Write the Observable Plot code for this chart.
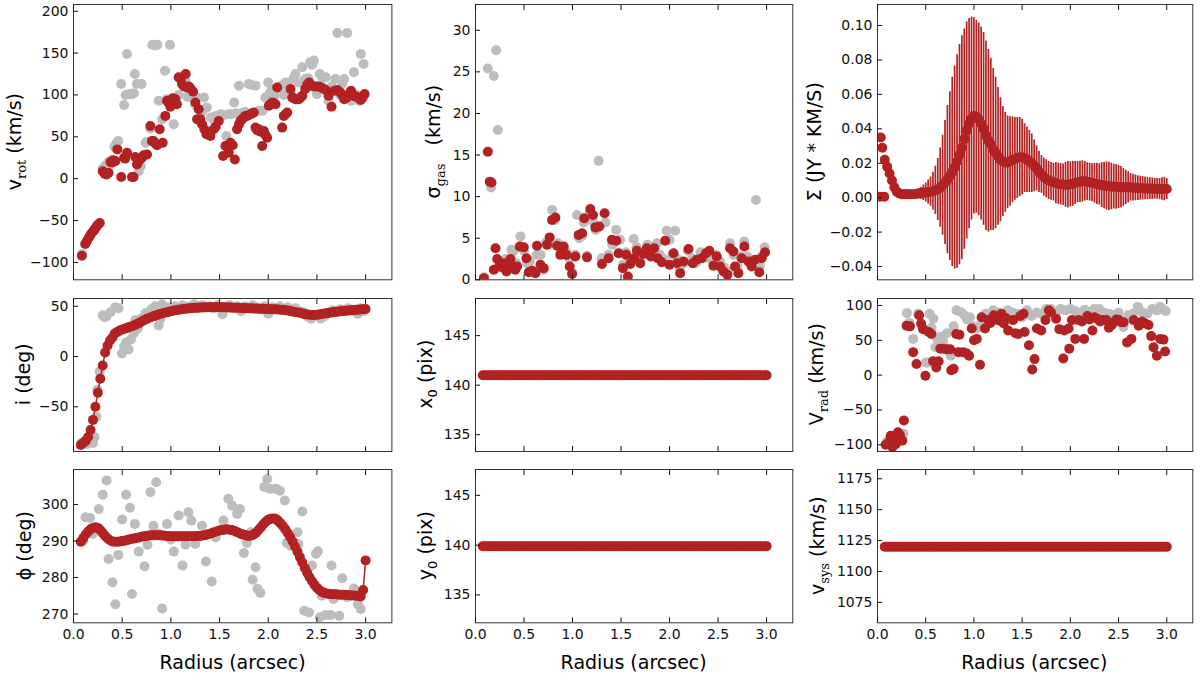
<!DOCTYPE html>
<html><head><meta charset="utf-8">
<script src="https://cdn.jsdelivr.net/npm/d3@7"></script>
<script src="https://cdn.jsdelivr.net/npm/@observablehq/plot@0.6"></script>
<style>
html,body{margin:0;padding:0;background:#fff;}
#chart{position:relative;width:1200px;height:679px;overflow:hidden;font-family:"DejaVu Sans";}
#chart svg.panel{position:absolute;max-width:none;}
#labels{position:absolute;left:0;top:0;pointer-events:none;}
</style></head><body><div id="chart"></div>
<script>
// ---------------- data ----------------
const radius = [
 0.075,0.1,0.125,0.15,0.175,0.2,0.225,0.25,0.275,0.3,
 0.325,0.35,0.375,0.4,0.425,0.45,0.475,0.5,0.525,0.55,
 0.575,0.6,0.625,0.65,0.675,0.7,0.725,0.75,0.775,0.8,
 0.825,0.85,0.875,0.9,0.925,0.95,0.975,1.0,1.025,1.05,
 1.075,1.1,1.125,1.15,1.175,1.2,1.225,1.25,1.275,1.3,
 1.325,1.35,1.375,1.4,1.425,1.45,1.475,1.5,1.525,1.55,
 1.575,1.6,1.625,1.65,1.675,1.7,1.725,1.75,1.775,1.8,
 1.825,1.85,1.875,1.9,1.925,1.95,1.975,2.0,2.025,2.05,
 2.075,2.1,2.125,2.15,2.175,2.2,2.225,2.25,2.275,2.3,
 2.325,2.35,2.375,2.4,2.425,2.45,2.475,2.5,2.525,2.55,
 2.575,2.6,2.625,2.65,2.675,2.7,2.725,2.75,2.775,2.8,
 2.825,2.85,2.875,2.9,2.925,2.95,2.975,3.0];

const inclinationFit = [
 -88,-86,-84,-80,-73,-63,-50,-36,-22,-9,
 4,11,16,19,23,24.5,25.8,26.8,27.7,28.5,
 29.3,30.1,31,32.2,33.5,34.8,36,37.2,38.3,39.3,
 40.2,41,41.8,42.5,43.2,43.8,44.4,45,45.5,46,
 46.4,46.8,47.2,47.5,47.8,48,48.2,48.4,48.6,48.7,
 48.8,48.9,49,49,49,49,49,49,48.9,48.9,
 48.8,48.8,48.7,48.6,48.5,48.4,48.3,48.2,48.1,48,
 47.9,47.8,47.7,47.6,47.5,47.4,47.3,47.2,47.1,47,
 46.9,46.8,46.6,46.4,46.1,45.8,45.3,44.7,44.2,43.8,
 43.5,42.8,42.2,41.8,41.5,41.3,41.3,41.5,41.9,42.3,
 42.7,43.1,43.5,43.9,44.2,44.5,44.8,45.1,45.4,45.6,
 45.8,46,46.2,46.4,46.6,46.8,47,47.2];

const phiFit = [
 289.8,290.8,291.8,292.6,293.2,293.6,293.8,293.6,293.0,292.2,
 291.4,290.7,290.2,289.9,289.8,289.8,289.9,290.0,290.1,290.3,
 290.4,290.6,290.7,290.9,291.0,291.2,291.3,291.4,291.5,291.6,
 291.6,291.6,291.6,291.5,291.5,291.4,291.4,291.3,291.3,291.3,
 291.3,291.3,291.3,291.3,291.3,291.3,291.3,291.3,291.4,291.4,
 291.5,291.6,291.8,292.0,292.2,292.5,292.7,292.9,293.0,293.1,
 293.2,293.1,293.0,292.8,292.5,292.2,291.9,291.7,291.5,291.4,
 291.5,291.8,292.3,293.0,293.8,294.6,295.3,295.8,296.1,296.2,
 296.1,295.6,294.9,294.1,293.2,292.2,291.1,289.9,288.5,287.1,
 285.6,284.1,282.6,281.3,280.1,279.0,278.0,277.2,276.6,276.1,
 275.8,275.6,275.5,275.4,275.4,275.4,275.3,275.3,275.3,275.2,
 275.2,275.1,275.1,275.0,275.0,274.8,276.6,284.7];

const surfaceFit = [
 0.022,0.018,0.014,0.010,0.006,0.0035,0.0025,0.002,0.002,0.002,
 0.002,0.002,0.002,0.0022,0.0024,0.0026,0.0028,0.003,0.0032,0.0035,
 0.0038,0.0042,0.0048,0.0058,0.0072,0.0088,0.0105,0.0125,0.015,0.0175,
 0.021,0.025,0.029,0.034,0.039,0.043,0.046,0.0475,0.047,0.0455,
 0.043,0.040,0.036,0.033,0.031,0.028,0.026,0.024,0.022,0.021,
 0.0205,0.0205,0.021,0.022,0.0225,0.023,0.0235,0.0235,0.023,0.022,
 0.021,0.020,0.0185,0.017,0.015,0.0135,0.012,0.011,0.010,0.0095,
 0.009,0.0085,0.008,0.0078,0.0075,0.0075,0.0075,0.0078,0.008,0.0085,
 0.009,0.0092,0.0095,0.0095,0.0093,0.009,0.0087,0.0083,0.008,0.0077,
 0.0073,0.007,0.0068,0.0066,0.0065,0.0064,0.0063,0.0062,0.0061,0.006,
 0.006,0.006,0.006,0.0058,0.0057,0.0056,0.0055,0.0055,0.0054,0.0053,
 0.0053,0.0052,0.0052,0.0051,0.005,0.005,0.005,0.005];

const surfaceErr = [
 0.0005,0.0008,0.001,0.001,0.001,0.001,0.001,0.001,0.0012,0.0014,
 0.0016,0.0018,0.002,0.0025,0.003,0.0035,0.0045,0.0055,0.007,0.0085,
 0.011,0.014,0.018,0.023,0.029,0.036,0.043,0.049,0.055,0.059,
 0.062,0.064,0.065,0.064,0.063,0.061,0.059,0.057,0.056,0.056,
 0.056,0.056,0.055,0.053,0.05,0.047,0.044,0.04,0.036,0.032,
 0.029,0.027,0.026,0.025,0.024,0.0235,0.023,0.022,0.02,0.019,
 0.018,0.017,0.015,0.013,0.012,0.011,0.011,0.011,0.011,0.011,
 0.011,0.012,0.012,0.012,0.012,0.013,0.0135,0.013,0.013,0.0125,
 0.012,0.012,0.012,0.0115,0.011,0.011,0.011,0.0115,0.012,0.012,
 0.013,0.0135,0.014,0.014,0.0135,0.013,0.013,0.0125,0.012,0.011,
 0.010,0.009,0.008,0.0078,0.0075,0.0072,0.007,0.0068,0.0066,0.0065,
 0.0063,0.0062,0.006,0.006,0.0062,0.0065,0.0068,0.006];

const surfaceInner = [[0.034,0.035],[0.05,0.029],[0.024,0.0006],[0.07,0.0006]];

const x0Value = 141;
const y0Value = 139.9;
const vsysValue = 1120;

const vrotFit = [
 [0.086,-92],[0.12,-78],[0.14,-74],[0.16,-70],[0.18,-66],[0.2,-63],[0.22,-60],[0.235,-57],[0.25,-55],[0.27,-53],
 [0.30,9],[0.32,6],[0.34,5],[0.36,7],[0.38,20],[0.395,19],[0.41,22],[0.43,21],[0.45,35],[0.49,2],
 [0.52,25],[0.53,24],[0.55,31],[0.60,2],[0.617,2],[0.634,26],[0.652,17],[0.669,21],[0.685,24],[0.703,25],
 [0.72,28],[0.755,29],[0.789,63],[0.805,45],[0.823,45],[0.84,42],[0.858,40],[0.885,59],[0.916,43],[0.943,75],
 [0.96,93],[0.98,90],[0.995,86],[1.019,96],[1.035,95],[1.046,95],[1.063,89],[1.08,121],[1.10,120],[1.115,113],
 [1.135,110],[1.152,125],[1.166,109],[1.185,110],[1.2,108],[1.228,104],[1.252,91],[1.269,71],[1.286,83],[1.303,71],
 [1.32,65],[1.344,59],[1.365,53],[1.385,55],[1.406,51],[1.44,59],[1.46,62],[1.492,69],[1.536,27],[1.56,39],
 [1.595,31],[1.612,43],[1.635,40],[1.657,23],[1.68,59],[1.70,65],[1.715,69],[1.732,71],[1.749,73],[1.766,75],
 [1.783,75],[1.80,76],[1.818,77],[1.835,78],[1.852,79],[1.869,61],[1.886,58],[1.903,59],[1.92,56],[1.938,39],
 [1.955,57],[1.972,52],[1.989,49],[2.006,87],[2.023,89],[2.04,91],[2.06,90],[2.075,89],[2.092,109],[2.143,61],
 [2.16,75],[2.178,77],[2.195,79],[2.229,107],[2.246,97],[2.263,96],[2.28,95],[2.30,95],[2.315,95],[2.333,97],
 [2.35,99],[2.38,107],[2.40,112],[2.42,115],[2.44,111],[2.47,110],[2.49,110],[2.52,110],[2.54,109],[2.56,108],
 [2.59,106],[2.62,99],[2.65,86],[2.68,105],[2.71,106],[2.74,103],[2.76,100],[2.78,95],[2.81,97],[2.83,101],
 [2.85,105],[2.88,99],[2.90,98],[2.92,97],[2.95,94],[2.97,97],[2.99,101]];

const vrotObs = [
 [0.09,-90],[0.13,-76],[0.17,-68],[0.21,-62],[0.25,-56],
 [0.30,12],[0.33,16],[0.36,20],[0.39,22],[0.42,38],[0.44,42],[0.46,45],[0.49,113],[0.52,88],[0.535,100],
 [0.55,149],[0.57,101],[0.60,101],[0.62,102],[0.63,125],[0.65,113],[0.67,9],[0.69,15],[0.70,113],[0.74,43],
 [0.755,44],[0.79,60],[0.81,160],[0.84,159],[0.86,160],[0.875,93],[0.91,71],[0.94,129],[0.96,95],[0.99,160],
 [1.03,65],[1.05,90],[1.08,100],[1.11,117],[1.15,117],[1.17,98],[1.2,97],[1.22,100],[1.25,88],[1.27,97],
 [1.3,69],[1.32,80],[1.34,97],[1.37,85],[1.41,73],[1.44,70],[1.46,75],[1.49,72],[1.51,77],[1.55,76],
 [1.57,51],[1.6,77],[1.62,77],[1.65,91],[1.67,78],[1.70,111],[1.73,78],[1.76,80],[1.80,113],[1.83,112],
 [1.87,111],[1.9,81],[1.94,81],[1.97,97],[2.0,115],[2.02,103],[2.04,107],[2.07,100],[2.1,108],[2.13,111],
 [2.16,100],[2.18,115],[2.2,112],[2.23,103],[2.26,120],[2.28,125],[2.31,115],[2.35,133],[2.38,119],[2.41,120],
 [2.43,139],[2.45,136],[2.47,141],[2.5,101],[2.53,125],[2.56,120],[2.59,121],[2.62,93],[2.65,110],[2.69,119],
 [2.71,174],[2.74,100],[2.76,113],[2.78,119],[2.81,174],[2.83,95],[2.85,93],[2.88,127],[2.91,100],[2.93,93],
 [2.95,149],[2.98,137]];

const sigmaFit = [
 [0.086,0.2],[0.127,15.4],[0.147,11.8],[0.165,11.7],[0.189,1.2],[0.206,3.8],[0.223,2.5],[0.25,1.8],[0.27,1.5],[0.291,2.0],
 [0.319,1.0],[0.34,1.8],[0.36,2.5],[0.394,1.6],[0.41,1.2],[0.429,1.6],[0.456,4.0],[0.497,3.9],[0.525,2.6],[0.549,0.9],
 [0.583,1.1],[0.617,0.8],[0.634,4.1],[0.669,1.8],[0.703,1.4],[0.737,4.2],[0.765,5.1],[0.789,7.2],[0.823,7.5],[0.84,4.1],
 [0.874,3.0],[0.909,4.0],[0.936,3.0],[0.971,1.6],[0.995,0.7],[1.029,2.8],[1.063,5.4],[1.098,5.6],[1.121,7.4],[1.149,2.7],
 [1.183,8.5],[1.211,7.8],[1.235,6.3],[1.276,6.4],[1.303,1.9],[1.331,8.0],[1.372,2.6],[1.406,4.8],[1.451,4.7],[1.475,3.2],
 [1.519,1.4],[1.553,3.0],[1.57,0.4],[1.595,1.9],[1.636,2.6],[1.663,3.5],[1.698,2.0],[1.732,3.1],[1.766,3.8],[1.807,2.8],
 [1.842,3.8],[1.876,2.6],[1.92,2.1],[1.955,4.7],[2.0,1.8],[2.041,3.2],[2.075,2.0],[2.109,0.8],[2.144,2.2],[2.195,3.7],
 [2.239,2.0],[2.28,2.4],[2.332,2.6],[2.376,3.2],[2.41,3.5],[2.452,1.7],[2.486,2.8],[2.521,1.6],[2.555,1.0],[2.596,0.6],
 [2.623,3.8],[2.658,3.4],[2.675,1.6],[2.709,0.8],[2.743,2.6],[2.771,4.0],[2.812,2.2],[2.846,1.6],[2.881,2.4],[2.925,0.9],
 [2.949,2.6],[2.984,3.3]];

const sigmaObs = [
 [0.09,0.3],[0.127,25.4],[0.16,11.1],[0.189,24.5],[0.213,27.6],[0.23,18.0],[0.25,2.2],[0.28,1.5],[0.31,2.5],[0.34,2.0],
 [0.37,3.6],[0.39,3.4],[0.42,2.0],[0.463,5.2],[0.5,3.5],[0.53,2.0],[0.56,2.2],[0.6,1.0],[0.63,3.0],[0.67,3.0],
 [0.7,1.2],[0.73,4.5],[0.76,4.3],[0.79,8.4],[0.82,7.2],[0.85,4.4],[0.88,3.5],[0.9,4.0],[0.94,3.3],[0.97,2.5],
 [1.0,0.8],[1.03,3.0],[1.046,7.8],[1.07,5.0],[1.1,5.3],[1.115,6.9],[1.15,2.9],[1.18,8.2],[1.21,7.0],[1.24,6.0],
 [1.269,14.3],[1.3,2.6],[1.34,6.9],[1.37,3.0],[1.41,4.2],[1.45,6.0],[1.49,4.8],[1.52,1.8],[1.55,3.3],[1.59,2.6],
 [1.63,4.9],[1.66,3.9],[1.7,2.8],[1.73,3.4],[1.77,4.2],[1.8,3.0],[1.84,3.5],[1.87,4.4],[1.9,3.0],[1.94,2.5],
 [1.97,5.9],[2.0,4.8],[2.03,3.0],[2.058,5.9],[2.08,2.5],[2.11,1.5],[2.15,2.0],[2.19,3.5],[2.23,2.6],[2.27,2.0],
 [2.32,3.3],[2.36,2.9],[2.4,2.6],[2.44,2.4],[2.48,3.0],[2.52,2.2],[2.56,1.5],[2.6,1.0],[2.623,4.4],[2.66,3.0],
 [2.7,1.6],[2.74,2.8],[2.77,4.6],[2.8,2.8],[2.85,2.0],[2.89,9.6],[2.93,1.7],[2.95,2.9],[2.98,3.9]];

const inclinationObs = [
 [0.08,-86],[0.11,-84],[0.14,-87],[0.17,-83],[0.2,-86],[0.216,-80],[0.235,-60],[0.245,-33],[0.27,-15],[0.3,41],
 [0.32,39],[0.34,40],[0.38,44],[0.429,49],[0.463,48],[0.497,3],[0.52,10],[0.54,14],[0.566,7],[0.59,17],
 [0.617,23],[0.634,36],[0.66,28],[0.7,38],[0.74,43],[0.77,40],[0.8,47],[0.84,50],[0.874,31],[0.89,37],
 [0.91,52],[0.94,45],[0.97,49],[1.0,47],[1.04,50],[1.08,48],[1.12,51],[1.16,49],[1.2,50],[1.24,52],
 [1.28,48],[1.32,51],[1.36,49],[1.4,50],[1.44,48],[1.48,51],[1.53,42],[1.56,49],[1.6,51],[1.64,48],
 [1.68,50],[1.72,45],[1.76,50],[1.8,48],[1.84,51],[1.88,49],[1.92,47],[1.96,50],[2.0,42.6],[2.04,49],
 [2.08,48],[2.12,50],[2.16,46],[2.2,49],[2.24,47],[2.28,48],[2.32,45],[2.36,44],[2.4,40],[2.44,37.5],
 [2.48,41],[2.54,37.5],[2.58,40],[2.62,43],[2.66,46],[2.7,44],[2.74,47],[2.78,45],[2.82,48],[2.86,46],
 [2.9,44],[2.92,42.5],[2.95,48],[2.98,45]];

const vradFit = [
 [0.085,-100],[0.12,-96],[0.137,-87],[0.154,-103],[0.171,-92],[0.188,-99],[0.212,-82],[0.233,-86],[0.257,-94],[0.274,-65],
 [0.301,71],[0.336,70],[0.37,33],[0.404,16],[0.432,86],[0.452,74],[0.473,66],[0.497,-1],[0.531,62],[0.559,59],
 [0.576,20],[0.61,11],[0.634,20],[0.651,38],[0.686,38],[0.72,37],[0.754,37],[0.765,7],[0.789,9],[0.816,59],
 [0.84,33],[0.85,58],[0.891,33],[0.926,31],[0.95,28],[0.977,67],[1.001,50],[1.029,52],[1.063,15],[1.08,83],
 [1.115,67],[1.149,79],[1.17,75],[1.183,81],[1.207,86],[1.23,80],[1.252,83],[1.27,78],[1.286,88],[1.31,74],
 [1.33,82],[1.355,64],[1.406,79],[1.43,60],[1.458,59],[1.48,85],[1.515,88],[1.526,62],[1.571,43],[1.605,8],
 [1.629,23],[1.653,67],[1.698,64],[1.742,79],[1.777,93],[1.8,90],[1.852,81],[1.886,66],[1.927,24],[1.938,64],
 [1.982,67],[1.989,38],[2.016,79],[2.051,52],[2.085,79],[2.12,77],[2.143,52],[2.177,85],[2.2,80],[2.229,64],
 [2.25,83],[2.28,81],[2.31,77],[2.332,79],[2.373,79],[2.4,68],[2.43,72],[2.451,76],[2.48,80],[2.503,79],
 [2.53,76],[2.554,76],[2.589,47],[2.633,52],[2.657,79],[2.709,71],[2.743,77],[2.777,74],[2.811,72],[2.839,56],
 [2.863,40],[2.898,28],[2.932,52],[2.966,51],[2.983,34]];

const vradObs = [
 [0.1,-95],[0.15,-90],[0.2,-97],[0.24,-88],[0.27,-84],
 [0.305,89],[0.33,75],[0.37,52],[0.42,88],[0.46,70],[0.5,18],[0.52,18],[0.54,88],[0.56,68],[0.58,81],
 [0.6,40],[0.62,52],[0.65,55],[0.68,49],[0.72,60],[0.76,28],[0.79,70],[0.82,93],[0.87,90],[0.9,86],
 [0.93,80],[0.96,83],[0.99,70],[1.03,67],[1.07,72],[1.12,88],[1.16,85],[1.2,93],[1.25,90],[1.3,86],
 [1.35,93],[1.4,90],[1.45,88],[1.5,83],[1.55,93],[1.6,85],[1.65,90],[1.7,88],[1.75,95],[1.8,95],
 [1.85,90],[1.9,95],[1.95,93],[2.0,95],[2.05,92],[2.1,90],[2.15,94],[2.2,90],[2.25,95],[2.3,95],
 [2.35,90],[2.4,88],[2.45,86],[2.5,90],[2.55,69],[2.6,86],[2.65,88],[2.7,98],[2.75,90],[2.8,88],
 [2.85,95],[2.9,93],[2.93,98],[2.96,95],[2.99,92]];

const phiObs = [
 [0.1,290],[0.122,296.5],[0.17,296.3],[0.2,292],[0.26,298.8],[0.3,302.7],[0.34,306.6],[0.36,285.1],[0.4,278.7],[0.43,272.7],
 [0.46,286.2],[0.5,295.9],[0.54,302.7],[0.58,299.1],[0.6,275.5],[0.63,294.7],[0.67,287.1],[0.73,283.1],[0.76,289],[0.79,303.4],
 [0.82,294.2],[0.85,306.1],[0.87,292],[0.91,271.5],[0.96,294.7],[1.0,290.4],[1.03,287.1],[1.08,297],[1.12,283.3],[1.15,289],
 [1.18,297.9],[1.21,295.6],[1.25,289.2],[1.32,294.2],[1.36,284.4],[1.42,278.9],[1.46,291],[1.51,292.9],[1.54,295.6],[1.59,301.6],
 [1.63,299.7],[1.68,297.4],[1.71,298.8],[1.75,286.7],[1.78,289.5],[1.82,292.4],[1.84,279.4],[1.87,282.8],[1.89,276.9],[1.92,275.8],
 [1.96,304.8],[1.99,307],[2.02,304.3],[2.08,304.3],[2.12,303.8],[2.17,301.1],[2.19,289.5],[2.23,288.7],[2.3,292.4],[2.31,289.2],
 [2.35,298.1],[2.37,270.9],[2.42,270.4],[2.45,283.3],[2.49,286.5],[2.51,287.2],[2.53,269.1],[2.55,275],[2.59,269.7],[2.64,269.7],
 [2.65,283.3],[2.67,274.1],[2.73,269.5],[2.76,279.8],[2.81,274.6],[2.88,277],[2.92,272.7],[2.95,271.4]];

const xTicks = [0, 0.5, 1, 1.5, 2, 2.5, 3];
const xDomain = [0, 3.27];

// ---------------- layout ----------------
const RED = "#b22222", GRAY = "#bdbdbd", INK = "#111", FRAME = "#333";
const cols = [{left:73.3,width:318.4},{left:475,width:317.3},{left:876.7,width:315.3}];
const rows = [{top:4,height:275.3},{top:297.7,height:153},{top:469,height:153.3}];
const M = {left:60, right:8, top:8, bottom:32};
const chart = document.getElementById("chart");

const grid = (vals) => radius.map((r, i) => ({r, v: vals[i]}));
const pairs = (arr) => arr.map(([r, v]) => ({r, v}));
const constant = (value) => radius.map(r => ({r, v: value}));

function obsDots(data){ return Plot.dot(pairs(data), {x:"r", y:"v", r:5, fill:GRAY, clip:true}); }
function fitDots(data){ return Plot.dot(data, {x:"r", y:"v", r:5, fill:RED, clip:true}); }

function panel(col, row, yDomain, yTicks, yFormat, marks){
  const c = cols[col], rw = rows[row];
  const svg = Plot.plot({
    width: M.left + c.width + M.right,
    height: M.top + rw.height + M.bottom,
    marginLeft: M.left, marginRight: M.right, marginTop: M.top, marginBottom: M.bottom,
    style: {background:"transparent", fontFamily:"DejaVu Sans", fontSize:"14px", color: INK},
    x: {domain: xDomain},
    y: {domain: yDomain},
    marks: [
      ...marks,
      Plot.frame({stroke: FRAME, strokeWidth: 1}),
      Plot.axisX(xTicks, {anchor:"bottom", tickSize:-5, tickPadding:11, tickFormat: row === 2 ? d3.format(".1f") : () => "", label:null}),
      Plot.axisX(xTicks, {anchor:"top", tickSize:-5, tickFormat: () => "", label:null}),
      Plot.axisY(yTicks, {anchor:"left", tickSize:-5, tickPadding:10, tickFormat: yFormat, label:null})
    ]
  });
  svg.classList.add("panel");
  svg.style.left = (c.left - M.left) + "px";
  svg.style.top = (rw.top - M.top) + "px";
  chart.appendChild(svg);
}

const fInt = d3.format("d");

// row 1
panel(0, 0, [-120.7, 208], [-100,-50,0,50,100,150,200], fInt, [
  obsDots(vrotObs), fitDots(pairs(vrotFit))
]);
panel(1, 0, [0, 33.1], [0,5,10,15,20,25,30], fInt, [
  obsDots(sigmaObs), fitDots(pairs(sigmaFit))
]);
const surf = radius.map((r, i) => ({r, v: surfaceFit[i], e: surfaceErr[i]}));
panel(2, 0, [-0.0477, 0.1122], [-0.04,-0.02,0,0.02,0.04,0.06,0.08,0.10], d3.format(".2f"), [
  Plot.ruleX(surf, {x:"r", y1: d => d.v - d.e, y2: d => d.v + d.e, stroke: RED, strokeWidth: 1.7, clip:true}),
  fitDots(pairs(surfaceInner)),
  fitDots(surf)
]);
// row 2
panel(0, 1, [-94.4, 57.7], [-50,0,50], fInt, [
  obsDots(inclinationObs),
  Plot.line(grid(inclinationFit), {x:"r", y:"v", stroke:RED, strokeWidth:1.5, clip:true}),
  fitDots(grid(inclinationFit))
]);
panel(1, 1, [133.3, 148.75], [135,140,145], fInt, [
  fitDots(constant(x0Value))
]);
panel(2, 1, [-109.6, 110], [-100,-50,0,50,100], fInt, [
  obsDots(vradObs), fitDots(pairs(vradFit))
]);
// row 3
panel(0, 2, [267.6, 309.6], [270,280,290,300], fInt, [
  obsDots(phiObs),
  Plot.line(grid(phiFit), {x:"r", y:"v", stroke:RED, strokeWidth:1.5, clip:true}),
  fitDots(grid(phiFit))
]);
panel(1, 2, [132.2, 147.6], [135,140,145], fInt, [
  fitDots(constant(y0Value))
]);
panel(2, 2, [1058.5, 1182.5], [1075,1100,1125,1150,1175], fInt, [
  fitDots(constant(vsysValue))
]);

// ---------------- axis titles ----------------
const overlay = d3.select(chart).append("svg").attr("id","labels").attr("width",1200).attr("height",679);
function yLabel(x, y, parts){
  const t = overlay.append("text")
    .attr("transform", `translate(${x},${y}) rotate(-90)`)
    .attr("text-anchor","middle").attr("font-family","DejaVu Sans").attr("font-size",19)
    .attr("fill","#000").style("white-space","pre");
  let shifted = false;
  parts.forEach(p => {
    const s = t.append("tspan").text(p.text);
    if (p.sub) {
      s.attr("font-size", 13).attr("dy", 4.5).attr("font-family", p.serif ? "DejaVu Serif" : "DejaVu Sans");
      shifted = true;
    } else if (shifted) {
      s.attr("dy", -4.5); shifted = false;
    }
  });
}
const rowMid = rows.map(r => r.top + r.height / 2);
yLabel(21, rowMid[0], [{text:"v"},{text:"rot", sub:true, serif:true},{text:" (km/s)"}]);
yLabel(440, rowMid[0], [{text:"σ"},{text:"gas", sub:true, serif:true},{text:"   (km/s)"}]);
yLabel(820.5, rowMid[0], [{text:"Σ (JY * KM/S)"}]);
yLabel(29.5, rowMid[1], [{text:"i (deg)"}]);
yLabel(432, rowMid[1], [{text:"x"},{text:"0", sub:true},{text:" (pix)"}]);
yLabel(823, rowMid[1], [{text:"V"},{text:"rad", sub:true, serif:true},{text:" (km/s)"}]);
yLabel(31, rowMid[2], [{text:"ϕ (deg)"}]);
yLabel(432, rowMid[2], [{text:"y"},{text:"0", sub:true},{text:" (pix)"}]);
yLabel(824, rowMid[2], [{text:"v"},{text:"sys", sub:true, serif:true},{text:" (km/s)"}]);

cols.forEach(c => {
  overlay.append("text").attr("x", c.left + c.width / 2).attr("y", 669)
    .attr("text-anchor","middle").attr("font-family","DejaVu Sans").attr("font-size",19)
    .attr("fill","#000").text("Radius (arcsec)");
});
</script></body></html>
